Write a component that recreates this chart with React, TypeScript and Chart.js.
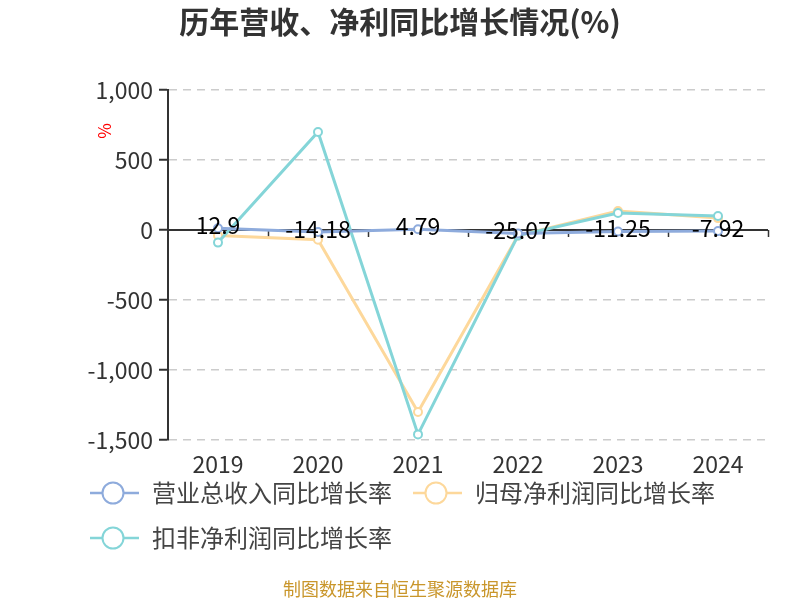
import React, { useEffect, useRef } from "react";
import { Chart, registerables } from "chart.js";

Chart.register(...registerables);

const categories = ["2019", "2020", "2021", "2022", "2023", "2024"];
const revenueGrowth = [12.9, -14.18, 4.79, -25.07, -11.25, -7.92];
const netProfitGrowth = [-40, -70, -1300, -40, 135, 85];
const deductedProfitGrowth = [-90, 700, -1460, -40, 122, 100];
const yTicks = [-1500, -1000, -500, 0, 500, 1000];

const seriesNames = ["营业总收入同比增长率", "归母净利润同比增长率", "扣非净利润同比增长率"];
const colors = ["#8eabdc", "#fdd89b", "#84d5d8"];

const FONT = "'Noto Sans CJK SC', 'Noto Sans', sans-serif";

const overlayPlugin = {
  id: "overlay",
  beforeDatasetsDraw(chart: any) {
    const ctx = chart.ctx;
    const y = chart.scales.y;
    const area = chart.chartArea;
    ctx.save();
    const y0 = y.getPixelForValue(0);
    ctx.strokeStyle = "#333";
    ctx.lineWidth = 2;
    ctx.beginPath();
    ctx.moveTo(area.left, y0);
    ctx.lineTo(area.right, y0);
    ctx.stroke();
    const n = categories.length;
    const w = (area.right - area.left) / n;
    ctx.lineWidth = 1.5;
    for (let i = 1; i <= n; i++) {
      const px = Math.round(area.left + w * i) + 0.5;
      ctx.beginPath();
      ctx.moveTo(px, y0);
      ctx.lineTo(px, y0 + 7);
      ctx.stroke();
    }
    ctx.restore();
  },
  afterDatasetsDraw(chart: any) {
    const ctx = chart.ctx;
    ctx.save();
    const meta = chart.getDatasetMeta(0);
    ctx.fillStyle = "#000";
    ctx.font = `23px ${FONT}`;
    ctx.textAlign = "center";
    ctx.textBaseline = "middle";
    meta.data.forEach((pt: any, i: number) => {
      ctx.fillText(String(revenueGrowth[i]), pt.x, pt.y - 3);
    });
    ctx.restore();
  },
  afterDraw(chart: any) {
    const ctx = chart.ctx;
    ctx.save();
    ctx.fillStyle = "#333";
    ctx.font = `bold 30px ${FONT}`;
    ctx.textAlign = "center";
    ctx.textBaseline = "middle";
    ctx.fillText("历年营收、净利同比增长情况(%)", 400, 22);
    ctx.save();
    ctx.translate(105, 131);
    ctx.rotate(-Math.PI / 2);
    ctx.fillStyle = "#ff0000";
    ctx.font = `17px ${FONT}`;
    ctx.fillText("%", 0, 0);
    ctx.restore();
    const items = [
      { x: 90, y: 493 },
      { x: 413, y: 493 },
      { x: 90, y: 538 },
    ];
    items.forEach((it, i) => {
      ctx.strokeStyle = colors[i];
      ctx.lineWidth = 2.5;
      ctx.beginPath();
      ctx.moveTo(it.x, it.y);
      ctx.lineTo(it.x + 49, it.y);
      ctx.stroke();
      ctx.beginPath();
      ctx.arc(it.x + 23, it.y, 10.5, 0, Math.PI * 2);
      ctx.fillStyle = "#fff";
      ctx.fill();
      ctx.lineWidth = 2;
      ctx.stroke();
      ctx.fillStyle = "#444";
      ctx.font = `24px ${FONT}`;
      ctx.textAlign = "left";
      ctx.textBaseline = "middle";
      ctx.fillText(seriesNames[i], it.x + 62, it.y);
    });
    ctx.fillStyle = "#c9962b";
    ctx.font = `18px ${FONT}`;
    ctx.textAlign = "center";
    ctx.fillText("制图数据来自恒生聚源数据库", 400, 589);
    ctx.restore();
  },
};

function makeDataset(label: string, data: number[], color: string, order: number) {
  return {
    label,
    data,
    borderColor: color,
    backgroundColor: "#fff",
    borderWidth: 3,
    pointRadius: 4,
    pointBorderWidth: 2,
    pointBackgroundColor: "#fff",
    pointBorderColor: color,
    tension: 0,
    order,
  };
}

export default function App() {
  const ref = useRef<HTMLCanvasElement>(null);
  useEffect(() => {
    if (!ref.current) return;
    const chart = new Chart(ref.current, {
      type: "line",
      data: {
        labels: categories,
        datasets: [
          makeDataset(seriesNames[0], revenueGrowth, colors[0], 0),
          makeDataset(seriesNames[1], netProfitGrowth, colors[1], 2),
          makeDataset(seriesNames[2], deductedProfitGrowth, colors[2], 1),
        ],
      },
      options: {
        animation: false,
        responsive: false,
        maintainAspectRatio: false,
        layout: { padding: { left: 0, right: 32, top: 90, bottom: 0 } },
        plugins: {
          legend: { display: false },
          title: { display: false },
          tooltip: { enabled: false },
        },
        scales: {
          x: {
            type: "category",
            offset: true,
            grid: { display: false, drawTicks: false },
            border: { display: false },
            ticks: {
              color: "#333",
              font: { size: 23, family: FONT },
              padding: 10,
              maxRotation: 0,
            },
            afterFit(s: any) {
              s.height = 160;
            },
          },
          y: {
            min: -1500,
            max: 1000,
            afterBuildTicks(s: any) {
              s.ticks = yTicks.map((v) => ({ value: v }));
            },
            grid: {
              color: "#cccccc",
              lineWidth: 1.5,
              tickBorderDash: [],
              tickColor: "#333",
              tickLength: 9,
              tickWidth: 2,
              drawTicks: true,
            },
            border: { display: true, color: "#333", width: 2, dash: [8, 6] },
            ticks: {
              color: "#333",
              font: { size: 23, family: FONT },
              padding: 6,
              callback: (v: any) => Number(v).toLocaleString("en-US"),
            },
            afterFit(s: any) {
              s.width = 168;
            },
          },
        },
      },
      plugins: [overlayPlugin],
    } as any);
    return () => chart.destroy();
  }, []);
  return (
    <div style={{ position: "absolute", left: 0, top: 0, width: 800, height: 600, background: "#fff" }}>
      <canvas ref={ref} width={800} height={600} style={{ width: 800, height: 600 }} />
    </div>
  );
}
